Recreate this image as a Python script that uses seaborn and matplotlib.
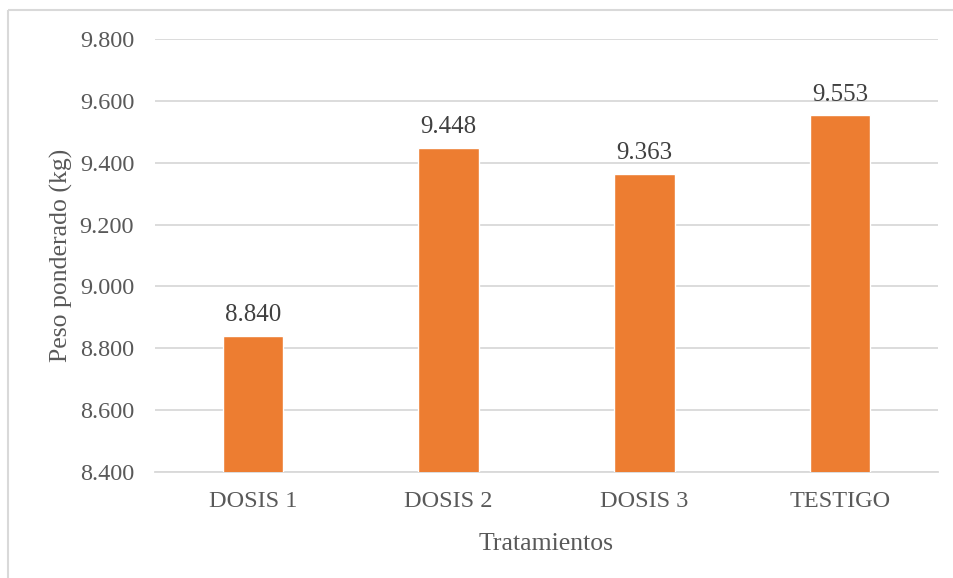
import matplotlib
matplotlib.use("Agg")
import matplotlib.pyplot as plt
import seaborn as sns
import pandas as pd
from matplotlib.lines import Line2D

tratamientos = ["DOSIS 1", "DOSIS 2", "DOSIS 3", "TESTIGO"]
peso = [8.840, 9.448, 9.363, 9.553]
y_ticks = [8.4, 8.6, 8.8, 9.0, 9.2, 9.4, 9.6, 9.8]

df = pd.DataFrame({"Tratamiento": tratamientos, "Peso": peso})

sns.set_theme(style="white")
plt.rcParams["font.family"] = ["Liberation Serif", "DejaVu Serif"]

fig = plt.figure(figsize=(9.54, 5.78), dpi=100)
fig.patch.set_linewidth(0)
ax = fig.add_axes([155 / 954, 1 - 472 / 578, (938 - 155) / 954, (472 - 39) / 578])

sns.barplot(data=df, x="Tratamiento", y="Peso", color="#ED7D31", saturation=1,
            width=0.31, ax=ax, zorder=3)

ax.set_ylim(8.4, 9.8)
ax.set_xlim(-0.5, len(tratamientos) - 0.5)
ax.set_yticks(y_ticks)
ax.set_yticklabels([f"{v:.3f}" for v in y_ticks])
ax.yaxis.grid(True, color="#d9d9d9", linewidth=1.3, zorder=0)
ax.set_axisbelow(True)
for s in ["top", "right", "left"]:
    ax.spines[s].set_visible(False)
ax.spines["bottom"].set_color("#d9d9d9")
ax.spines["bottom"].set_linewidth(1.3)

ax.tick_params(axis="y", length=0, pad=15, labelsize=17.5, labelcolor="#595959")
ax.tick_params(axis="x", length=0, pad=14, labelsize=17.5, labelcolor="#595959")

ax.set_xlabel("Tratamientos", fontsize=18.5, color="#595959", labelpad=15)
ax.set_ylabel("Peso ponderado (kg)", fontsize=18.5, color="#595959", labelpad=5)

for i, v in enumerate(peso):
    ax.annotate(f"{v:.3f}", (i, v), xytext=(0, 7), textcoords="offset points",
                ha="center", va="bottom", fontsize=18, color="#404040")

# chart frame: only top and left edges fall inside the image
fx, fy = 8.5 / 954, 1 - 9.5 / 578
fig.add_artist(Line2D([fx, 0.9995], [fy, fy], transform=fig.transFigure,
                      color="#d9d9d9", linewidth=1.5, solid_capstyle="butt"))
fig.add_artist(Line2D([fx, fx], [0.0, fy], transform=fig.transFigure,
                      color="#d9d9d9", linewidth=1.5, solid_capstyle="butt"))

fig.savefig("out.png", dpi=100, facecolor="white", edgecolor="white")
